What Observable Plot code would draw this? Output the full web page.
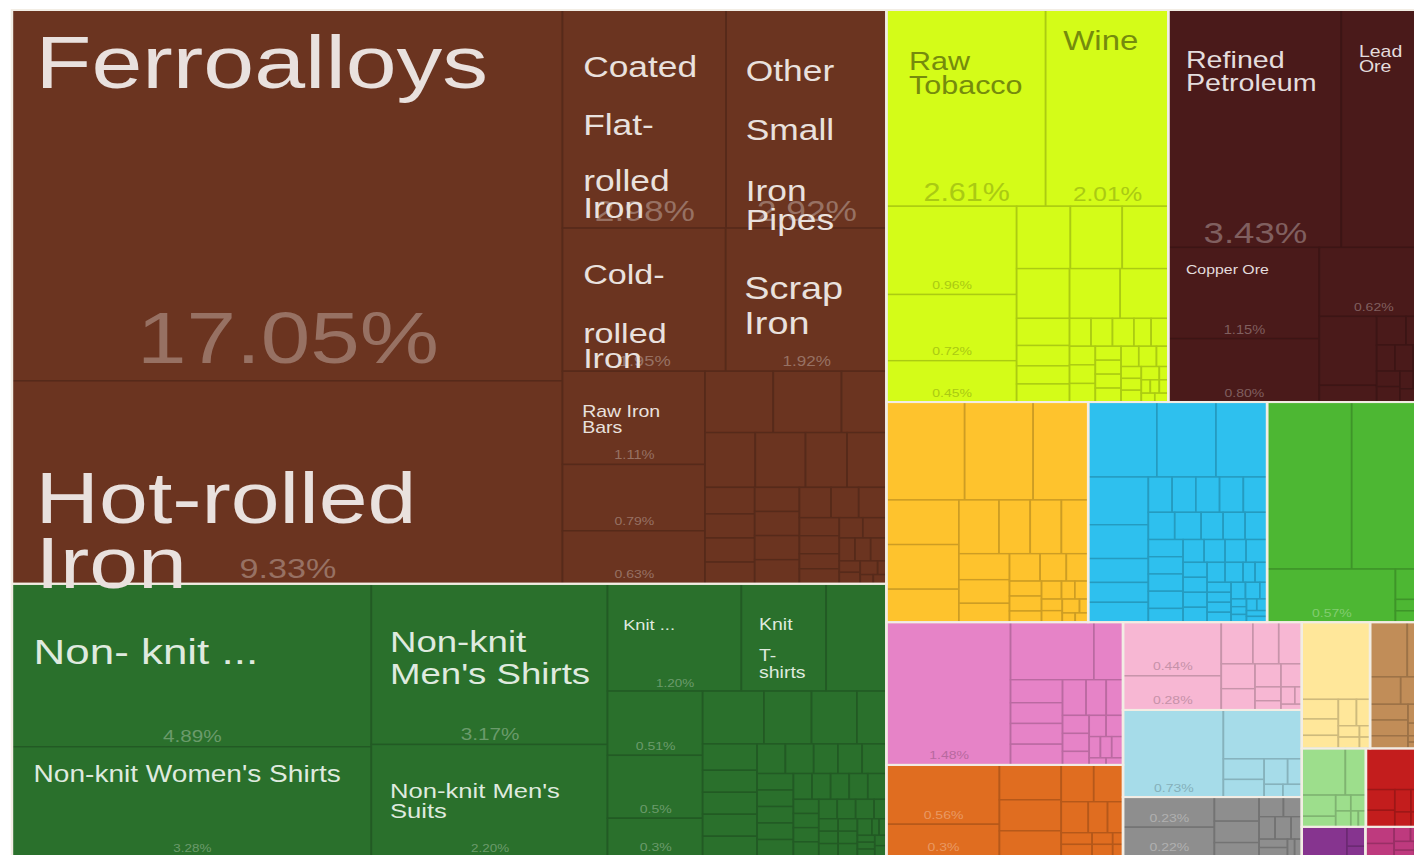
<!DOCTYPE html>
<html>
<head>
<meta charset="utf-8">
<script src="https://cdn.jsdelivr.net/npm/d3@7"></script>
<script src="https://cdn.jsdelivr.net/npm/@observablehq/plot@0.6"></script>
<style>
  html, body { margin: 0; padding: 0; background: #ffffff; width: 1414px; height: 855px; overflow: hidden; }
  #chart { transform-origin: 0 0; }
</style>
</head>
<body>
<div id="chart"></div>
<script>
// ---------------- DATA (share of exports, %) ----------------
const sectors = ["Metals", "Textiles", "Vegetable Products", "Mineral Products", "Foodstuffs", "Machines",
  "Animal Products", "Chemical Products", "Plastics and Rubbers", "Paper Goods", "Transportation",
  "Instruments", "Stone and Glass", "Animal Hides", "Footwear and Headwear", "Miscellaneous",
  "Precious Metals", "Wood Products"];

const metalsValues = [17.05, 9.33, 2.98, 2.92, 1.95, 1.92, 1.11, 0.79, 0.63, 0.35, 0.35, 0.23, 0.23, 0.23, 0.19, 0.18,
  0.11, 0.10, 0.10, 0.09, 0.09, 0.09, 0.09, 0.09, 0.08, 0.07, 0.07, 0.06, 0.06, 0.05, 0.05, 0.04, 0.04,
  0.03, 0.03, 0.03, 0.02, 0.02, 0.02, 0.01, 0.01, 0.01];
const metalsProducts = ["Ferroalloys", "Hot-rolled Iron", "Coated Flat-rolled Iron", "Other Small Iron Pipes",
  "Cold-rolled Iron", "Scrap Iron", "Raw Iron Bars"];

const textilesValues = [4.89, 3.28, 3.17, 2.20, 1.20, 0.76, 0.54, 0.51, 0.50, 0.30, 0.27, 0.21, 0.20, 0.13, 0.12,
  0.10, 0.10, 0.10, 0.09, 0.07, 0.07, 0.06, 0.06, 0.06, 0.05, 0.05, 0.05, 0.05, 0.05, 0.04, 0.04, 0.04, 0.04,
  0.04, 0.03, 0.03, 0.03, 0.03, 0.03, 0.03, 0.03, 0.02, 0.02, 0.02, 0.02, 0.02, 0.02, 0.02, 0.02, 0.01, 0.01,
  0.01, 0.01, 0.01, 0.01, 0.01];
const textilesProducts = ["Non-knit Women's Suits", "Non-knit Women's Shirts", "Non-knit Men's Shirts",
  "Non-knit Men's Suits", "Knit Women's Suits", "Knit T-shirts"];

const vegetableValues = [2.61, 2.01, 0.96, 0.72, 0.45, 0.28, 0.27, 0.24, 0.22, 0.21, 0.20, 0.12, 0.09, 0.08, 0.08,
  0.05, 0.05, 0.05, 0.04, 0.04, 0.04, 0.04, 0.04, 0.03, 0.03, 0.03, 0.03, 0.03, 0.03, 0.02, 0.02, 0.02, 0.02,
  0.02, 0.01, 0.01, 0.01, 0.01, 0.01, 0.01];
const vegetableProducts = ["Raw Tobacco", "Wine"];

const mineralValues = [3.43, 1.70, 1.15, 0.80, 0.62, 0.33, 0.08, 0.07, 0.05, 0.04, 0.04, 0.03, 0.03, 0.03, 0.02,
  0.02, 0.02, 0.01];
const mineralProducts = ["Refined Petroleum", "Lead Ore", "Copper Ore"];

const foodValues = [0.64, 0.56, 0.45, 0.27, 0.27, 0.20, 0.18, 0.14, 0.14, 0.12, 0.11, 0.10, 0.08, 0.07, 0.06, 0.05,
  0.04, 0.04, 0.03, 0.03, 0.02, 0.02, 0.02, 0.02, 0.02, 0.01, 0.01, 0.01];
const machinesValues = [0.43, 0.37, 0.32, 0.24, 0.17, 0.12, 0.10, 0.10, 0.07, 0.07, 0.07, 0.07, 0.07, 0.06, 0.06,
  0.05, 0.05, 0.05, 0.05, 0.05, 0.05, 0.05, 0.04, 0.04, 0.04, 0.04, 0.04, 0.03, 0.03, 0.03, 0.03, 0.03, 0.03,
  0.02, 0.02, 0.02, 0.02, 0.02, 0.02, 0.02, 0.02, 0.01, 0.01, 0.01, 0.01, 0.01, 0.01, 0.01, 0.01];
const animalValues = [1.18, 1.05, 0.57, 0.05, 0.03, 0.02, 0.02, 0.01, 0.01];
const chemicalValues = [1.48, 0.40, 0.14, 0.10, 0.09, 0.09, 0.09, 0.07, 0.06, 0.05, 0.04, 0.04, 0.03, 0.03, 0.03,
  0.02, 0.02, 0.02, 0.01, 0.01];
const plasticsValues = [0.56, 0.30, 0.18, 0.16, 0.13, 0.10, 0.09, 0.07, 0.05, 0.04, 0.03, 0.03, 0.02, 0.02, 0.01, 0.01];
const paperValues = [0.44, 0.28, 0.11, 0.09, 0.08, 0.07, 0.06, 0.05, 0.04, 0.03, 0.02, 0.02, 0.01, 0.01];
const transportValues = [0.73, 0.32, 0.07, 0.06, 0.05, 0.03, 0.02, 0.02];
const instrumentsValues = [0.23, 0.22, 0.09, 0.08, 0.05, 0.04, 0.03, 0.03, 0.03, 0.02, 0.02, 0.02, 0.01, 0.01];
const stoneValues = [0.44, 0.06, 0.05, 0.04, 0.04, 0.03, 0.02, 0.02, 0.01, 0.01];
const hidesValues = [0.17, 0.09, 0.07, 0.06, 0.05, 0.05, 0.04, 0.03, 0.02, 0.01, 0.01];
const footwearValues = [0.17, 0.08, 0.06, 0.03, 0.02, 0.02, 0.02, 0.01, 0.01];
const miscValues = [0.21, 0.05, 0.04, 0.03, 0.03, 0.02, 0.01, 0.01];
const preciousValues = [0.11, 0.03, 0.015];
const woodValues = [0.04, 0.03, 0.02, 0.02, 0.015, 0.01, 0.01, 0.005];

const sectorValues = [metalsValues, textilesValues, vegetableValues, mineralValues, foodValues, machinesValues,
  animalValues, chemicalValues, plasticsValues, paperValues, transportValues, instrumentsValues, stoneValues,
  hidesValues, footwearValues, miscValues, preciousValues, woodValues];
const sectorProducts = [metalsProducts, textilesProducts, vegetableProducts, mineralProducts];

// ---------------- STYLE ----------------
const sectorColors = ["#6b3420", "#2a702c", "#d4fc18", "#4a1a1a", "#fec32d", "#2ec0ee", "#4db733", "#e683c7",
  "#e06d20", "#f7b7d3", "#a6dce9", "#8e8e8e", "#ffe79a", "#c18d58", "#9dde8c", "#c31d1d", "#86348f", "#be3a7e"];
const sectorTone = ["light", "light", "dark", "light", "dark", "dark", "light", "dark", "light", "dark", "dark",
  "light", "dark", "dark", "dark", "light", "light", "light"];
// percent labels written with one decimal in the original (sector index : value)
const oneDecimalLabels = new Set(["1:0.50", "1:0.30", "8:0.30"]);

// label styles: font size, displayed lines, baseline offsets from cell top (px), left padding (px)
const labelStyle = {
  "Ferroalloys": {size: 75, lines: ["Ferroalloys"], base: [77], pad: 23, pctSize: 73, pctUp: 18},
  "Hot-rolled Iron": {size: 72, lines: ["Hot-rolled", "Iron"], base: [142, 207], pad: 23, pctSize: 28, pctUp: 6},
  "Coated Flat-rolled Iron": {size: 29, lines: ["Coated", "Flat-", "rolled", "Iron"], base: [66, 124, 180, 207], pad: 20, pctSize: 29, pctUp: 8},
  "Other Small Iron Pipes": {size: 29, lines: ["Other", "Small", "Iron", "Pipes"], base: [70, 129, 190, 219], pad: 19, pctSize: 29, pctUp: 8},
  "Cold-rolled Iron": {size: 28, lines: ["Cold-", "rolled", "Iron"], base: [55, 114, 139], pad: 20, pctSize: 15, pctUp: 6},
  "Scrap Iron": {size: 31, lines: ["Scrap", "Iron"], base: [70, 105], pad: 18, pctSize: 14, pctUp: 6},
  "Raw Iron Bars": {size: 16, lines: ["Raw Iron", "Bars"], base: [45, 61], pad: 19, pctSize: 12, pctUp: 6},
  "Raw Tobacco": {size: 25, lines: ["Raw", "Tobacco"], base: [59, 83], pad: 22, pctSize: 25, pctUp: 6},
  "Wine": {size: 27, lines: ["Wine"], base: [39], pad: 17, pctSize: 20, pctUp: 6},
  "Refined Petroleum": {size: 23.5, lines: ["Refined", "Petroleum"], base: [57, 80], pad: 17, pctSize: 30, pctUp: 5},
  "Lead Ore": {size: 16, lines: ["Lead", "Ore"], base: [46, 61], pad: 17, pct: false},
  "Copper Ore": {size: 13, lines: ["Copper Ore"], base: [26], pad: 17, pctSize: 12, pctUp: 5},
  "Non-knit Women's Suits": {size: 36, lines: ["Non- knit ..."], base: [80], pad: 21, pctSize: 17, pctUp: 5},
  "Non-knit Women's Shirts": {size: 23, lines: ["Non-knit Women's Shirts"], base: [35], pad: 21, pctSize: 11, pctUp: 5},
  "Non-knit Men's Shirts": {size: 30, lines: ["Non-knit", "Men's Shirts"], base: [68, 100], pad: 18, pctSize: 17, pctUp: 5},
  "Non-knit Men's Suits": {size: 21, lines: ["Non-knit Men's", "Suits"], base: [53, 73], pad: 18, pctSize: 11, pctUp: 5},
  "Knit Women's Suits": {size: 15, lines: ["Knit ..."], base: [46], pad: 15, pctSize: 11, pctUp: 5},
  "Knit T-shirts": {size: 16, lines: ["Knit", "T-", "shirts"], base: [46, 77, 94], pad: 17, pct: false}
};

// The original picture is a treemap stretched horizontally; reproduce that stretch
const K = 1.22;
const PW = Math.round(1414 / K);
const X0 = 12 / K, X1 = 1427 / K, Y0 = 10, Y1 = 856;
const Wv = X1 - X0, Hv = Y1 - Y0;

// ---------------- LAYOUT ----------------
const tree = {
  children: sectors.map((s, i) => ({
    sector: s, index: i,
    children: sectorValues[i].map((v, j) => ({name: (sectorProducts[i] || [])[j] ?? null, value: v, sector: i}))
  }))
};
const root = d3.hierarchy(tree).sum(d => d.value ?? 0).sort((a, b) => b.value - a.value);
d3.treemap().tile(d3.treemapSquarify).size([Wv, Hv]).round(false)(root);

const f2 = d3.format(".2f"), f1 = d3.format(".1f");
const pctText = (si, v) => (oneDecimalLabels.has(si + ":" + f2(v)) ? f1(v) : f2(v)) + "%";
const cells = [], pctLabels = [], nameLabels = [];
for (const leaf of root.leaves()) {
  const si = leaf.data.sector;
  const c = sectorColors[si];
  const light = sectorTone[si] === "light";
  const nameColor = light ? d3.interpolateRgb(c, "#ffffff")(0.85) : d3.interpolateRgb(c, "#000000")(0.45);
  const pctColor = light ? d3.interpolateRgb(c, "#ffffff")(0.3) : d3.interpolateRgb(c, "#000000")(0.2);
  cells.push({x0: leaf.x0, x1: leaf.x1, y0: leaf.y0, y1: leaf.y1, fill: c, stroke: d3.color(c).darker(0.6).formatHex()});
  const st = labelStyle[leaf.data.name];
  const wDisp = (leaf.x1 - leaf.x0) * K, hDisp = leaf.y1 - leaf.y0;
  const showPct = st ? st.pct !== false : (wDisp >= 85.5 && hDisp >= 26);
  if (showPct) pctLabels.push({x: (leaf.x0 + leaf.x1) / 2, y: leaf.y1 - ((st && st.pctUp) ?? 6),
    text: pctText(si, leaf.data.value), size: (st && st.pctSize) ?? 11.5, fill: pctColor});
  if (st) st.lines.forEach((t, i) => nameLabels.push({x: leaf.x0 + st.pad / K, y: leaf.y0 + st.base[i],
    text: t, size: st.size, fill: nameColor}));
}
const sectorCells = root.children.map(n => ({x0: n.x0, x1: n.x1, y0: n.y0, y1: n.y1}));

const textMarks = [];
for (const [size, rows] of d3.group(pctLabels, d => d.size)) {
  textMarks.push(Plot.text(rows, {x: "x", y: "y", text: "text", fill: "fill", fontSize: size,
    textAnchor: "middle", lineAnchor: "bottom"}));
}
for (const [size, rows] of d3.group(nameLabels, d => d.size)) {
  textMarks.push(Plot.text(rows, {x: "x", y: "y", text: "text", fill: "fill", fontSize: size,
    textAnchor: "start", lineAnchor: "bottom"}));
}

const chart = Plot.plot({
  width: PW,
  height: 855,
  margin: 0,
  x: {domain: [0, Wv], range: [X0, X0 + Wv], axis: null},
  y: {domain: [0, Hv], range: [Y0, Y0 + Hv], axis: null},
  color: {type: "identity"},
  style: {fontFamily: "'Liberation Sans', Arial, sans-serif", background: "#ffffff"},
  marks: [
    Plot.rect(cells, {x1: "x0", x2: "x1", y1: "y0", y2: "y1", fill: "fill", stroke: "stroke", strokeWidth: 1.4}),
    Plot.rect(sectorCells, {x1: "x0", x2: "x1", y1: "y0", y2: "y1", fill: "none", stroke: "#f2ede4", strokeWidth: 2}),
    ...textMarks
  ]
});
const holder = document.getElementById("chart");
holder.style.width = PW + "px";
holder.style.transform = `scaleX(${K})`;
holder.appendChild(chart);
</script>
</body>
</html>
